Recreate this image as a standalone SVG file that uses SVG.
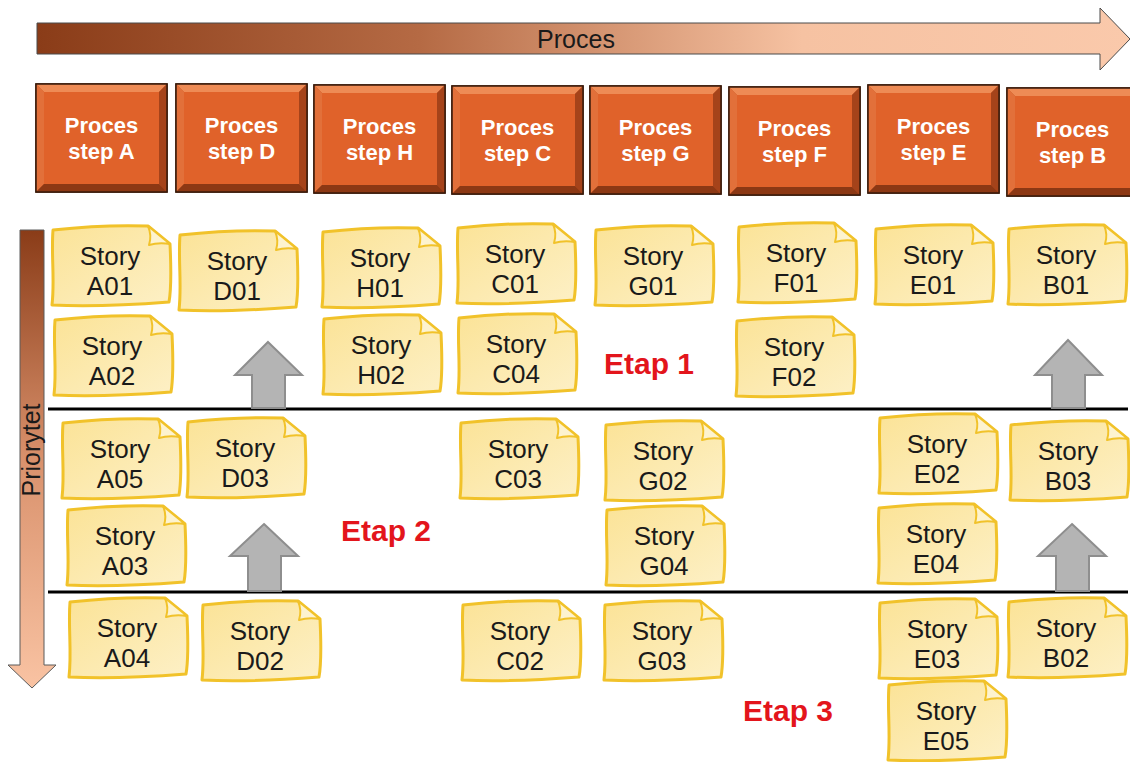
<svg xmlns="http://www.w3.org/2000/svg" xmlns:xlink="http://www.w3.org/1999/xlink" width="1130" height="762" viewBox="0 0 1130 762">
  <style>
    .ptext { font-family: "Liberation Sans", Arial, sans-serif; font-size: 22px; font-weight: bold; fill: #ffffff; text-anchor: middle; }
    .story { font-family: "Liberation Sans", Arial, sans-serif; font-size: 26px; fill: #1a1a1a; text-anchor: middle; }
    .etap { font-family: "Liberation Sans", Arial, sans-serif; font-size: 30px; font-weight: bold; fill: #e3151c; text-anchor: middle; }
    .axis { font-family: "Liberation Sans", Arial, sans-serif; font-size: 25px; fill: #1a1a1a; text-anchor: middle; }
    .divider { stroke: #000000; stroke-width: 3; }
    .uparrow { fill: #b4b4b4; stroke: #8e8e8e; stroke-width: 2; }
  </style>
  <defs>
    <linearGradient id="gradProcess" x1="0" y1="0" x2="1" y2="0">
      <stop offset="0" stop-color="#8a3c18"/>
      <stop offset="0.35" stop-color="#b56a44"/>
      <stop offset="0.7" stop-color="#f6c2a2"/>
      <stop offset="1" stop-color="#fac9ab"/>
    </linearGradient>
    <linearGradient id="gradPriority" x1="0" y1="0" x2="0" y2="1">
      <stop offset="0" stop-color="#8a3c18"/>
      <stop offset="0.5" stop-color="#d9916c"/>
      <stop offset="1" stop-color="#f9c3a3"/>
    </linearGradient>
    <linearGradient id="gradNote" x1="0" y1="0" x2="1" y2="1">
      <stop offset="0" stop-color="#fbe397"/>
      <stop offset="1" stop-color="#fdf0c6"/>
    </linearGradient>
    <!-- orange bevelled step box -->
    <g id="pbox">
      <rect x="0" y="0" width="131" height="108" fill="#c4501e" stroke="#3a1a0a" stroke-width="1.5"/>
      <polygon points="0,0 131,0 123,8 8,8" fill="#ee8b55"/>
      <polygon points="0,0 8,8 8,100 0,108" fill="#e2703a"/>
      <polygon points="131,0 131,108 123,100 123,8" fill="#a5431a"/>
      <polygon points="0,108 8,100 123,100 131,108" fill="#8c3814"/>
      <rect x="8" y="8" width="115" height="92" fill="#e0622a"/>
      <rect x="0" y="0" width="131" height="108" fill="none" stroke="#3a1a0a" stroke-width="1.5"/>
    </g>
    <!-- sticky note with curled corner -->
    <g id="note">
      <path d="M3,5 C30,2 70,0 98,1 L120,19 C121,40 122,60 119,77 C80,80 40,82 2,80 C5,55 1,30 3,5 Z" fill="url(#gradNote)" stroke="#f1c22a" stroke-width="3" stroke-linejoin="round"/>
      <path d="M98,1 C101,8 101,14 99,20 C106,18 113,18 120,19 Z" fill="#fdf3cf" stroke="#f1c22a" stroke-width="2" stroke-linejoin="round"/>
    </g>
  </defs>

  <rect width="1130" height="762" fill="#ffffff"/>

  <!-- process direction arrow -->
  <g id="process-arrow">
    <path d="M37,23 L1100,23 L1100,8 L1130,39 L1100,70 L1100,54 L37,54 Z" fill="url(#gradProcess)" stroke="#4a4a4a" stroke-width="1"/>
    <text class="axis" x="576" y="48">Proces</text>
  </g>

  <!-- priority arrow -->
  <g id="priority-arrow">
    <path d="M20,230 L44,230 L44,665 L56,665 L32,688 L8,665 L20,665 Z" fill="url(#gradPriority)" stroke="#5a5a5a" stroke-width="1"/>
    <text class="axis" transform="translate(40,450) rotate(-90)" x="0" y="0">Priorytet</text>
  </g>

  <!-- process steps -->
  <g id="step-A"><use href="#pbox" x="36" y="84"/><text class="ptext" x="101.5" y="133">Proces<tspan x="101.5" dy="26">step A</tspan></text></g>
  <g id="step-D"><use href="#pbox" x="176" y="84"/><text class="ptext" x="241.5" y="133">Proces<tspan x="241.5" dy="26">step D</tspan></text></g>
  <g id="step-H"><use href="#pbox" x="314" y="85"/><text class="ptext" x="379.5" y="134">Proces<tspan x="379.5" dy="26">step H</tspan></text></g>
  <g id="step-C"><use href="#pbox" x="452" y="86"/><text class="ptext" x="517.5" y="135">Proces<tspan x="517.5" dy="26">step C</tspan></text></g>
  <g id="step-G"><use href="#pbox" x="590" y="86"/><text class="ptext" x="655.5" y="135">Proces<tspan x="655.5" dy="26">step G</tspan></text></g>
  <g id="step-F"><use href="#pbox" x="729" y="87"/><text class="ptext" x="794.5" y="136">Proces<tspan x="794.5" dy="26">step F</tspan></text></g>
  <g id="step-E"><use href="#pbox" x="868" y="85"/><text class="ptext" x="933.5" y="134">Proces<tspan x="933.5" dy="26">step E</tspan></text></g>
  <g id="step-B"><use href="#pbox" x="1007" y="88"/><text class="ptext" x="1072.5" y="137">Proces<tspan x="1072.5" dy="26">step B</tspan></text></g>

  <!-- stage dividers and promotion arrows -->
  <g id="connectors">
    <line class="divider" x1="48" y1="409" x2="1128" y2="409"/>
    <line class="divider" x1="48" y1="592" x2="1128" y2="592"/>
    <path class="uparrow" d="M268,342 L302,375 L285,375 L285,408 L252,408 L252,375 L235,375 Z"/>
    <path class="uparrow" d="M1068,340 L1102,375 L1085,375 L1085,408 L1052,408 L1052,375 L1035,375 Z"/>
    <path class="uparrow" d="M264,524 L298,556 L281,556 L281,591 L248,591 L248,556 L230,556 Z"/>
    <path class="uparrow" d="M1072,524 L1106,556 L1089,556 L1089,591 L1056,591 L1056,556 L1038,556 Z"/>
  </g>

  <!-- stage labels -->
  <g id="stage-labels">
    <text class="etap" x="649" y="374">Etap 1</text>
    <text class="etap" x="386" y="541">Etap 2</text>
    <text class="etap" x="788" y="721">Etap 3</text>
  </g>

  <!-- stories -->
  <g id="story-A01"><use href="#note" x="50" y="225"/><text class="story" x="110" y="265">Story<tspan x="110" dy="30">A01</tspan></text></g>
  <g id="story-D01"><use href="#note" x="177" y="230"/><text class="story" x="237" y="270">Story<tspan x="237" dy="30">D01</tspan></text></g>
  <g id="story-H01"><use href="#note" x="320" y="227"/><text class="story" x="380" y="267">Story<tspan x="380" dy="30">H01</tspan></text></g>
  <g id="story-C01"><use href="#note" x="455" y="223"/><text class="story" x="515" y="263">Story<tspan x="515" dy="30">C01</tspan></text></g>
  <g id="story-G01"><use href="#note" x="593" y="225"/><text class="story" x="653" y="265">Story<tspan x="653" dy="30">G01</tspan></text></g>
  <g id="story-F01"><use href="#note" x="736" y="222"/><text class="story" x="796" y="262">Story<tspan x="796" dy="30">F01</tspan></text></g>
  <g id="story-E01"><use href="#note" x="873" y="224"/><text class="story" x="933" y="264">Story<tspan x="933" dy="30">E01</tspan></text></g>
  <g id="story-B01"><use href="#note" x="1006" y="224"/><text class="story" x="1066" y="264">Story<tspan x="1066" dy="30">B01</tspan></text></g>

  <g id="story-A02"><use href="#note" x="52" y="315"/><text class="story" x="112" y="355">Story<tspan x="112" dy="30">A02</tspan></text></g>
  <g id="story-H02"><use href="#note" x="321" y="314"/><text class="story" x="381" y="354">Story<tspan x="381" dy="30">H02</tspan></text></g>
  <g id="story-C04"><use href="#note" x="456" y="313"/><text class="story" x="516" y="353">Story<tspan x="516" dy="30">C04</tspan></text></g>
  <g id="story-F02"><use href="#note" x="734" y="316"/><text class="story" x="794" y="356">Story<tspan x="794" dy="30">F02</tspan></text></g>

  <g id="story-A05"><use href="#note" x="60" y="418"/><text class="story" x="120" y="458">Story<tspan x="120" dy="30">A05</tspan></text></g>
  <g id="story-D03"><use href="#note" x="185" y="417"/><text class="story" x="245" y="457">Story<tspan x="245" dy="30">D03</tspan></text></g>
  <g id="story-C03"><use href="#note" x="458" y="418"/><text class="story" x="518" y="458">Story<tspan x="518" dy="30">C03</tspan></text></g>
  <g id="story-G02"><use href="#note" x="603" y="420"/><text class="story" x="663" y="460">Story<tspan x="663" dy="30">G02</tspan></text></g>
  <g id="story-E02"><use href="#note" x="877" y="413"/><text class="story" x="937" y="453">Story<tspan x="937" dy="30">E02</tspan></text></g>
  <g id="story-B03"><use href="#note" x="1008" y="420"/><text class="story" x="1068" y="460">Story<tspan x="1068" dy="30">B03</tspan></text></g>

  <g id="story-A03"><use href="#note" x="65" y="505"/><text class="story" x="125" y="545">Story<tspan x="125" dy="30">A03</tspan></text></g>
  <g id="story-G04"><use href="#note" x="604" y="505"/><text class="story" x="664" y="545">Story<tspan x="664" dy="30">G04</tspan></text></g>
  <g id="story-E04"><use href="#note" x="876" y="503"/><text class="story" x="936" y="543">Story<tspan x="936" dy="30">E04</tspan></text></g>

  <g id="story-A04"><use href="#note" x="67" y="597"/><text class="story" x="127" y="637">Story<tspan x="127" dy="30">A04</tspan></text></g>
  <g id="story-D02"><use href="#note" x="200" y="600"/><text class="story" x="260" y="640">Story<tspan x="260" dy="30">D02</tspan></text></g>
  <g id="story-C02"><use href="#note" x="460" y="600"/><text class="story" x="520" y="640">Story<tspan x="520" dy="30">C02</tspan></text></g>
  <g id="story-G03"><use href="#note" x="602" y="600"/><text class="story" x="662" y="640">Story<tspan x="662" dy="30">G03</tspan></text></g>
  <g id="story-E03"><use href="#note" x="877" y="598"/><text class="story" x="937" y="638">Story<tspan x="937" dy="30">E03</tspan></text></g>
  <g id="story-B02"><use href="#note" x="1006" y="597"/><text class="story" x="1066" y="637">Story<tspan x="1066" dy="30">B02</tspan></text></g>
  <g id="story-E05"><use href="#note" x="886" y="680"/><text class="story" x="946" y="720">Story<tspan x="946" dy="30">E05</tspan></text></g>
</svg>
